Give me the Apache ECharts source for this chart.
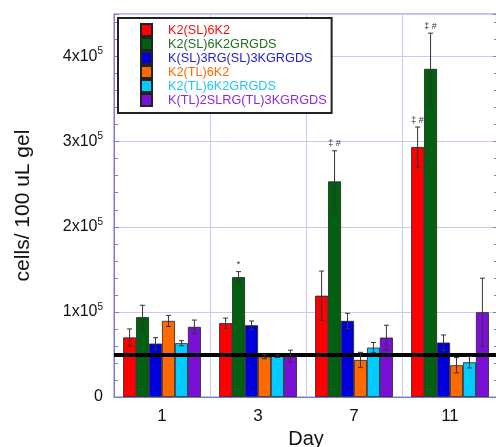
<!DOCTYPE html>
<html>
<head>
<meta charset="utf-8">
<script src="https://cdn.jsdelivr.net/npm/echarts@6/dist/echarts.min.js"></script>
<style>
html, body { margin: 0; padding: 0; background: #fff; }
#chart { width: 496px; height: 447px; }
</style>
</head>
<body>
<div id="chart"></div>
<script>
//数据
const days = ['1', '3', '7', '11'];
const names = ['K2(SL)6K2', 'K2(SL)6K2GRGDS', 'K(SL)3RG(SL)3KGRGDS', 'K2(TL)6K2', 'K2(TL)6K2GRGDS', 'K(TL)2SLRG(TL)3KGRGDS'];
const colors = ['#ff0000', '#006010', '#0000dd', '#ff6a00', '#00ccff', '#7a10d8'];
const textColors = ['#ee1111', '#1f6e1f', '#2222cc', '#ff6a00', '#22c8f0', '#8a2be2'];

const k2sl6k2 = [70000, 86700, 119000, 293700];
const k2sl6k2Err = [10000, 6000, 29000, 23500];
const k2sl6k2grgds = [93800, 140800, 253300, 385500];
const k2sl6k2grgdsErr = [14000, 6500, 36000, 42000];
const ksl3rgsl3 = [62700, 84300, 89400, 63900];
const ksl3rgsl3Err = [7000, 5000, 9000, 9000];
const k2tl6k2 = [89400, 47400, 43500, 37300];
const k2tl6k2Err = [6500, 2500, 9000, 9000];
const k2tl6k2grgds = [63200, 48000, 58000, 40800];
const k2tl6k2grgdsErr = [3000, 1500, 6000, 6700];
const ktl2slrg = [82400, 48000, 69800, 99600];
const ktl2slrgErr = [8000, 7000, 14500, 40000];

const means = [k2sl6k2, k2sl6k2grgds, ksl3rgsl3, k2tl6k2, k2tl6k2grgds, ktl2slrg];
const errs = [k2sl6k2Err, k2sl6k2grgdsErr, ksl3rgsl3Err, k2tl6k2Err, k2tl6k2grgdsErr, ktl2slrgErr];

//显著性标记
const markDay = [1, 2, 3, 3];
const markSeries = [1, 1, 0, 1];
const markText = ['*', '‡ #', '‡ #', '‡ #'];

//参考线
const baseline = 50000;

const catGap = 0.19;
const axisColor = '#7b7bd6';
const gridColor = '#c9c9f2';

let chart = echarts.init(document.getElementById('chart'));

//柱子在类目内的横向偏移
function barX(api, dayIdx, i) {
    const band = api.size([1, 0])[0];
    const inner = band * (1 - catGap);
    const bw = inner / names.length;
    return api.coord([dayIdx, 0])[0] - inner / 2 + bw * (i + 0.5);
}

let series = [];
names.forEach(function (name, i) {
    series.push({
        name: name,
        type: 'bar',
        barGap: 0,
        barCategoryGap: '19%',
        data: means[i],
        itemStyle: { color: colors[i], borderColor: '#222', borderWidth: 0.8 }
    });
});
names.forEach(function (name, i) {
    series.push({
        type: 'custom',
        silent: true,
        z: 5,
        data: means[i].map(function (v, d) { return [d, v, errs[i][d]]; }),
        renderItem: function (params, api) {
            const d = api.value(0), v = api.value(1), e = api.value(2);
            const x = barX(api, d, i);
            const yHi = api.coord([d, v + e])[1];
            const yLo = api.coord([d, v - e])[1];
            const st = { stroke: '#333', lineWidth: 1 };
            return {
                type: 'group',
                children: [
                    { type: 'line', shape: { x1: x, y1: yHi, x2: x, y2: yLo }, style: st },
                    { type: 'line', shape: { x1: x - 2.5, y1: yHi, x2: x + 2.5, y2: yHi }, style: st },
                    { type: 'line', shape: { x1: x - 2.5, y1: yLo, x2: x + 2.5, y2: yLo }, style: st }
                ]
            };
        }
    });
});
//标记文字
series.push({
    type: 'custom',
    silent: true,
    z: 6,
    data: markDay.map(function (d, k) { return [d, means[markSeries[k]][d] + errs[markSeries[k]][d]]; }),
    renderItem: function (params, api) {
        const k = params.dataIndex;
        const x = barX(api, api.value(0), markSeries[k]);
        const y = api.coord([api.value(0), api.value(1)])[1];
        return {
            type: 'text',
            style: {
                x: x, y: y - 7, text: markText[k],
                fill: '#333', font: '9px "Liberation Sans", Arial, sans-serif',
                align: 'center', verticalAlign: 'middle'
            }
        };
    }
});
//参考线
series.push({
    type: 'line',
    data: [],
    z: 8,
    markLine: {
        silent: true,
        symbol: 'none',
        label: { show: false },
        lineStyle: { color: '#000', width: 4, type: 'solid' },
        data: [{ yAxis: baseline }]
    }
});

let option = {
    animation: false,
    textStyle: { fontFamily: '"Liberation Sans", Arial, sans-serif' },
    grid: {
        left: 114, top: 14, width: 384, height: 383,
        outerBoundsMode: 'none',
        show: true, borderColor: axisColor, borderWidth: 1
    },
    legend: {
        orient: 'vertical',
        left: 118, top: 18,
        padding: [5, 5, 6, 22],
        backgroundColor: '#fff',
        borderColor: '#222',
        borderWidth: 2,
        itemWidth: 11,
        itemHeight: 12,
        itemGap: 0,
        icon: 'rect',
        textStyle: { fontSize: 12.7, lineHeight: 12, padding: [0, 0, 0, 11] },
        data: names.map(function (n, i) {
            return { name: n, textStyle: { color: textColors[i] } };
        })
    },
    xAxis: {
        type: 'category',
        data: days,
        name: 'Day',
        nameLocation: 'middle',
        nameGap: 32,
        nameTextStyle: { fontSize: 20, color: '#111' },
        axisLine: { lineStyle: { color: axisColor } },
        axisTick: { show: false },
        axisLabel: { fontSize: 17, color: '#111', margin: 11 },
        splitLine: { show: true, lineStyle: { color: gridColor } }
    },
    yAxis: [{
        type: 'value',
        min: 0, max: 450000, interval: 100000,
        name: 'cells/ 100 uL gel',
        nameLocation: 'middle',
        nameRotate: 90,
        nameGap: 80,
        nameTextStyle: { fontSize: 21, color: '#111' },
        axisLine: { show: true, lineStyle: { color: axisColor } },
        axisTick: { show: true, inside: true, length: 5, lineStyle: { color: axisColor } },
        minorTick: { show: true, splitNumber: 5, length: 4, lineStyle: { color: axisColor } },
        splitLine: { lineStyle: { color: gridColor } },
        axisLabel: {
            margin: 11,
            color: '#111',
            formatter: function (v) {
                if (v === 0) return '{a|0}';
                if (v % 100000) return '';
                return '{a|' + (v / 100000) + 'x10}{b|5}';
            },
            rich: {
                a: { fontSize: 16, lineHeight: 20, color: '#111' },
                b: { fontSize: 10, verticalAlign: 'top', lineHeight: 12, color: '#111' }
            }
        }
    }, {
        type: 'value',
        position: 'right',
        min: 0, max: 450000, interval: 100000,
        axisLine: { show: true, lineStyle: { color: axisColor } },
        axisTick: { show: true, inside: true, length: 5, lineStyle: { color: axisColor } },
        minorTick: { show: true, splitNumber: 5, length: 4, lineStyle: { color: axisColor } },
        axisLabel: { show: false },
        splitLine: { show: false }
    }],
    series: series
};
chart.setOption(option);
</script>
</body>
</html>
